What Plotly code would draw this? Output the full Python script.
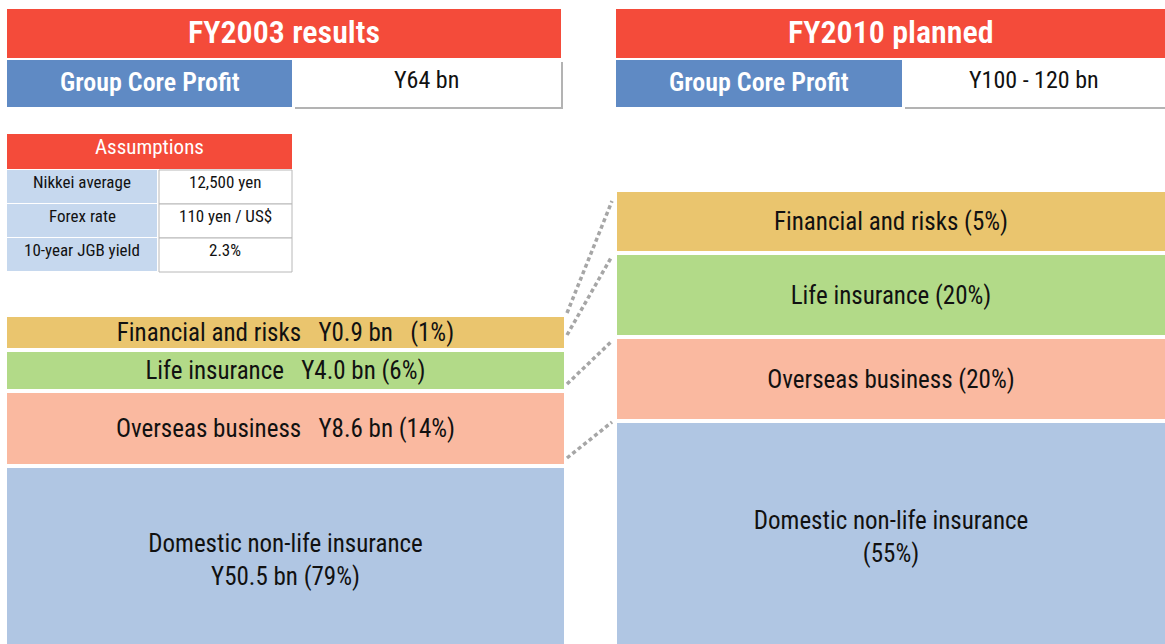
import plotly.graph_objects as go

# ---------------- data ----------------
segments = ["Financial and risks", "Life insurance", "Overseas business", "Domestic non-life insurance"]
fy2003_bn = [0.9, 4.0, 8.6, 50.5]
fy2003_share = [1, 6, 14, 79]
fy2010_share = [5, 20, 20, 55]
periods = ["FY2003 results", "FY2010 planned"]
core_profit = ["Y64 bn", "Y100 - 120 bn"]
assumption_items = ["Nikkei average", "Forex rate", "10-year JGB yield"]
assumption_values = ["12,500 yen", "110 yen / US$", "2.3%"]

# ---------------- layout constants (pixels) ----------------
W, H = 1165, 644
FONT = "Roboto Condensed, Liberation Sans Narrow, Arial Narrow, sans-serif"
RED = "#F44B3A"
BLUE = "#5F8AC4"
LIGHTBLUE = "#C6D8EE"
SEG_COLORS = ["#EAC56E", "#B2DA88", "#FAB9A0", "#B0C6E3"]
LEFT_X = (7, 564)
RIGHT_X = (617, 1165)
LEFT_TOP, RIGHT_TOP = 317, 192
LEFT_BLOCK = [31, 37, 71, 184]   # displayed block heights (diagram, not to scale)
RIGHT_BLOCK = [59, 80, 80, 228]
GAP = 4
LABEL_SIZE = 25

def stack(top, blocks):
    bases = []
    y = top
    for b in blocks:
        bases.append(y)
        y += b + GAP
    return bases

left_base = stack(LEFT_TOP, LEFT_BLOCK)
right_base = stack(RIGHT_TOP, RIGHT_BLOCK)

sp = "\u00a0\u00a0\u00a0"
left_text = [
    f"{segments[0]}{sp}Y{fy2003_bn[0]:.1f} bn{sp}({fy2003_share[0]}%)",
    f"{segments[1]}{sp}Y{fy2003_bn[1]:.1f} bn ({fy2003_share[1]}%)",
    f"{segments[2]}{sp}Y{fy2003_bn[2]:.1f} bn ({fy2003_share[2]}%)",
    f"{segments[3]}<br>Y{fy2003_bn[3]:.1f} bn ({fy2003_share[3]}%)",
]
right_text = [
    f"{segments[0]} ({fy2010_share[0]}%)",
    f"{segments[1]} ({fy2010_share[1]}%)",
    f"{segments[2]} ({fy2010_share[2]}%)",
    f"{segments[3]}<br>({fy2010_share[3]}%)",
]

fig = go.Figure()

lc = (LEFT_X[0] + LEFT_X[1]) / 2
rc = (RIGHT_X[0] + RIGHT_X[1]) / 2
lw = LEFT_X[1] - LEFT_X[0]
rw = RIGHT_X[1] - RIGHT_X[0]

for i, seg in enumerate(segments):
    fig.add_trace(go.Bar(
        x=[lc, rc],
        y=[LEFT_BLOCK[i], RIGHT_BLOCK[i]],
        base=[left_base[i], right_base[i]],
        width=[lw, rw],
        marker=dict(color=SEG_COLORS[i], line=dict(width=0)),
        text=[left_text[i], right_text[i]],
        textposition="inside",
        insidetextanchor="middle",
        textangle=0,
        textfont=dict(family=FONT, size=LABEL_SIZE, color="#111111"),
        hoverinfo="skip",
        name=seg,
    ))

# dotted connectors between segment boundaries
conn_left = [left_base[0] - 4, left_base[0] + 18, left_base[1] + LEFT_BLOCK[1] - 5, left_base[2] + LEFT_BLOCK[2] - 6]
conn_right = [right_base[0] + 9, right_base[1] + 1, right_base[2] + 2, right_base[3] - 1]
for yl, yr in zip(conn_left, conn_right):
    fig.add_trace(go.Scatter(
        x=[LEFT_X[1] + 3, RIGHT_X[0] - 5], y=[yl, yr], mode="lines",
        line=dict(color="#A6A6A6", width=3.5, dash="4px,3px"),
        hoverinfo="skip", showlegend=False,
    ))

shapes = []
annotations = []

def rect(x0, y0, x1, y1, fill, line_color=None, lwid=0):
    shapes.append(dict(type="rect", xref="x", yref="y", x0=x0, y0=y0, x1=x1, y1=y1,
                       fillcolor=fill, line=dict(color=line_color or fill, width=lwid), layer="below"))

def text(x, y, s, size, color="#111111", weight="normal"):
    annotations.append(dict(x=x, y=y, xref="x", yref="y", text=s,
                            showarrow=False, xanchor="center", yanchor="middle",
                            font=dict(family=FONT, size=size, color=color, weight=weight)))

# headers
for (x0, xm, x1), title, cp in zip([(7, 292, 561), (616, 902, 1165)], periods, core_profit):
    rect(x0, 9, x1, 58, RED)
    text((x0 + x1) / 2, 32, title, 32, "white", weight=600)
    rect(x0, 60, xm, 107, BLUE)
    text((x0 + xm) / 2, 82, "Group Core Profit", 26, "white", weight=600)
    rect(xm + 3, 62, x1 + 2, 109, "#B3B3B3")
    rect(xm + 1, 60, x1, 107, "white")
    text((xm + x1) / 2, 80, cp, 24)

# assumptions table
rect(7, 134, 292, 169, RED)
text(149.5, 147, "Assumptions", 21, "white")
row_top = [170, 204, 238]
for rt, item, val in zip(row_top, assumption_items, assumption_values):
    rect(7, rt, 157, rt + 33, LIGHTBLUE)
    rect(159, rt, 292, rt + 34, "white", "#B8B8B8", 1)
    text(82, rt + 12, item, 17)
    text(225, rt + 12, val, 17)

fig.update_layout(
    width=W, height=H,
    margin=dict(l=0, r=0, t=0, b=0),
    paper_bgcolor="white", plot_bgcolor="white",
    showlegend=False,
    barmode="overlay",
    uniformtext=dict(minsize=LABEL_SIZE, mode="show"),
    xaxis=dict(range=[0, W], visible=False, fixedrange=True),
    yaxis=dict(range=[H, 0], visible=False, fixedrange=True),
    shapes=shapes,
    annotations=annotations,
)

fig.write_html("out.html", config={"displayModeBar": False},
               post_script="document.body.style.margin='0';")
